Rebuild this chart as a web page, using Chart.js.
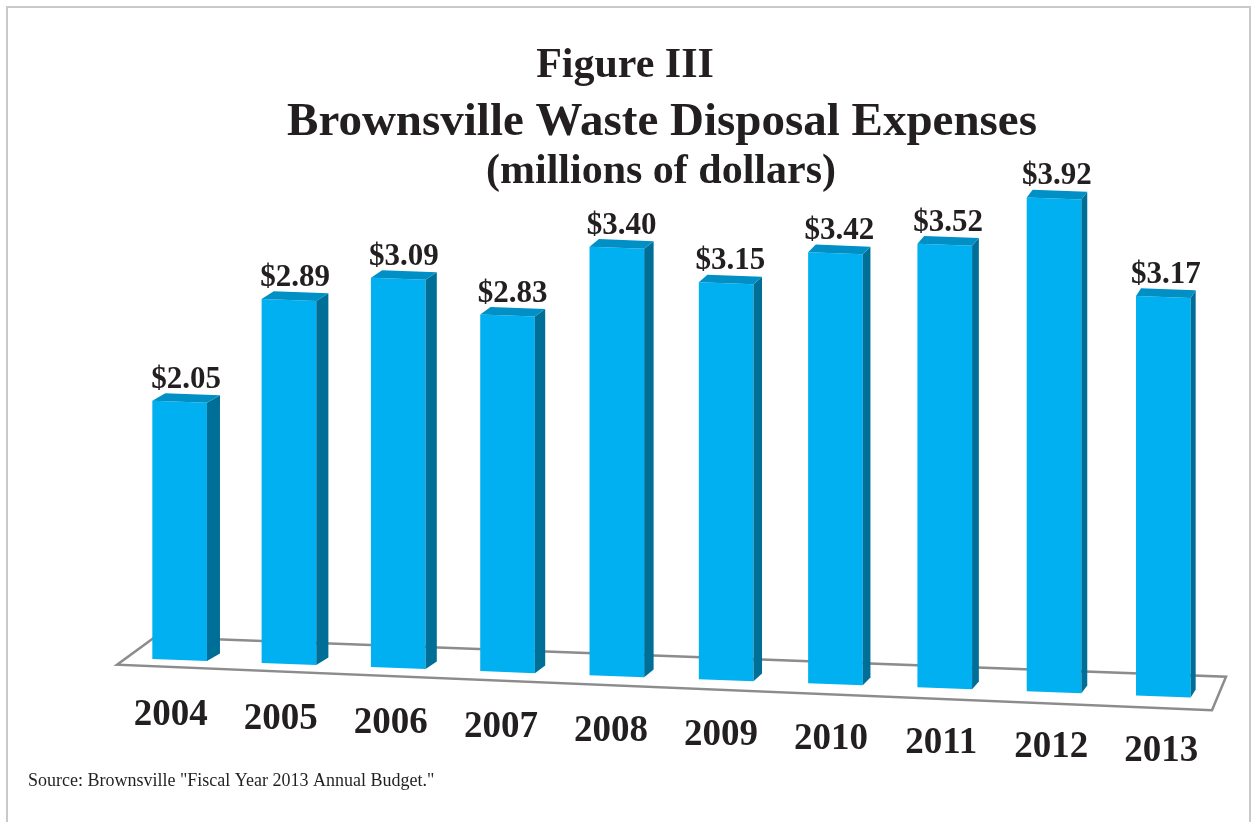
<!DOCTYPE html>
<html>
<head>
<meta charset="utf-8">
<script src="https://cdn.jsdelivr.net/npm/chart.js@4"></script>
<style>
  body { margin: 0; background: #fff; }
  canvas { display: block; }
</style>
</head>
<body>
<canvas id="chart" width="1253" height="822"></canvas>
<script>
// Brownsville waste disposal expenses, millions of dollars
const years = ['2004', '2005', '2006', '2007', '2008', '2009', '2010', '2011', '2012', '2013'];
const expenses = [2.05, 2.89, 3.09, 2.83, 3.40, 3.15, 3.42, 3.52, 3.92, 3.17];
const valueLabels = expenses.map(v => '$' + v.toFixed(2));

const titleLines = ['Figure III', 'Brownsville Waste Disposal Expenses', '(millions of dollars)'];
const sourceNote = 'Source: Brownsville "Fiscal Year 2013 Annual Budget."';

// floor tilts down to the right
const skew = 0.037;
const serif = '"Liberation Serif", "Times New Roman", serif';

const threeD = {
    id: 'threeD',
    beforeDraw(chart) {
        const ctx = chart.ctx;
        ctx.save();
        ctx.strokeStyle = '#c9c9c9';
        ctx.lineWidth = 2;
        ctx.strokeRect(7, 7, 1243, 830);
        ctx.fillStyle = '#231f20';
        ctx.textAlign = 'center';
        ctx.textBaseline = 'alphabetic';
        ctx.font = 'bold 42px ' + serif;
        ctx.fillText(titleLines[0], 625, 77);
        ctx.font = 'bold 47px ' + serif;
        ctx.fillText(titleLines[1], 662, 135);
        ctx.font = 'bold 42px ' + serif;
        ctx.fillText(titleLines[2], 661, 183);
        ctx.textAlign = 'left';
        ctx.font = '18px ' + serif;
        ctx.fillText(sourceNote, 28, 786);
        ctx.restore();
    },
    beforeDatasetsDraw(chart) {
        const ctx = chart.ctx;
        const meta = chart.getDatasetMeta(0);
        const x0 = meta.data[0].x;
        const B = chart.scales.y.getPixelForValue(0);
        const L = chart.chartArea.left, R = chart.chartArea.right;
        ctx.save();
        ctx.transform(1, skew, 0, 1, 0, -skew * x0);
        // floor
        ctx.beginPath();
        ctx.moveTo(L - 8, B + 7);
        ctx.lineTo(L + 30, B - 22);
        ctx.lineTo(R + 8, B - 22);
        ctx.lineTo(R - 6, B + 12);
        ctx.closePath();
        ctx.fillStyle = '#ffffff';
        ctx.fill();
        ctx.strokeStyle = '#8c8c8c';
        ctx.lineWidth = 2.5;
        ctx.stroke();
    },
    afterDatasetsDraw(chart) {
        const ctx = chart.ctx;
        const meta = chart.getDatasetMeta(0);
        const n = meta.data.length;
        const x0 = meta.data[0].x;
        const dy = 8;
        meta.data.forEach((bar, i) => {
            const p = bar.getProps(['x', 'y', 'base', 'width'], true);
            const l = p.x - p.width / 2, r = p.x + p.width / 2;
            const dx = 13 - 8 * i / (n - 1);
            // side
            ctx.beginPath();
            ctx.moveTo(r, p.y);
            ctx.lineTo(r + dx, p.y - dy);
            ctx.lineTo(r + dx, p.base - dy);
            ctx.lineTo(r, p.base);
            ctx.closePath();
            ctx.fillStyle = '#006f98';
            ctx.fill();
            // top
            ctx.beginPath();
            ctx.moveTo(l, p.y);
            ctx.lineTo(l + dx, p.y - dy);
            ctx.lineTo(r + dx, p.y - dy);
            ctx.lineTo(r, p.y);
            ctx.closePath();
            ctx.fillStyle = '#0090c6';
            ctx.fill();
        });
        ctx.restore();

        // labels, placed on the tilted floor but not skewed themselves
        ctx.save();
        ctx.fillStyle = '#231f20';
        ctx.textAlign = 'center';
        ctx.textBaseline = 'alphabetic';
        meta.data.forEach((bar, i) => {
            const p = bar.getProps(['x', 'y', 'base'], true);
            const off = skew * (p.x - x0);
            const dx = 13 - 8 * i / (n - 1);
            ctx.font = 'bold 31px ' + serif;
            ctx.fillText(valueLabels[i], p.x + dx / 2, p.y + off - dy - 6);
            ctx.font = 'bold 37px ' + serif;
            ctx.fillText(years[i], p.x - 9 + 7 * i / (n - 1), p.base + off + 65);
        });
        ctx.restore();
    }
};

new Chart(document.getElementById('chart'), {
    type: 'bar',
    data: {
        labels: years,
        datasets: [{
            data: expenses,
            backgroundColor: '#00b0f0',
            borderWidth: 0,
            barPercentage: 0.5,
            categoryPercentage: 1,
            clip: false
        }]
    },
    options: {
        responsive: false,
        animation: false,
        events: [],
        layout: { padding: { top: 93, bottom: 162, left: 125, right: 35 } },
        plugins: {
            legend: { display: false },
            title: { display: false },
            tooltip: { enabled: false }
        },
        scales: {
            x: { display: false },
            y: { display: false, min: 0, max: 4.5 }
        }
    },
    plugins: [threeD]
});
</script>
</body>
</html>
